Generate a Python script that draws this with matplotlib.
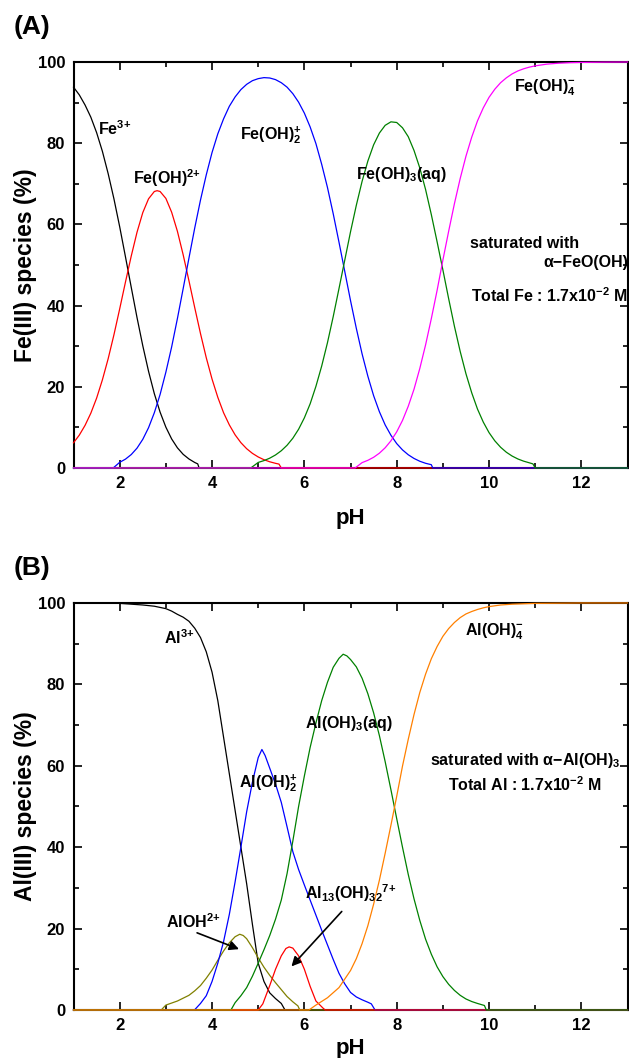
import numpy as np
import matplotlib.pyplot as plt
from matplotlib.ticker import MultipleLocator

plt.rcParams['font.family'] = ['Liberation Sans', 'DejaVu Sans']
plt.rcParams['font.weight'] = 'bold'
plt.rcParams['mathtext.fontset'] = 'custom'
plt.rcParams['mathtext.rm'] = 'Liberation Sans:bold'
plt.rcParams['mathtext.sf'] = 'Liberation Sans'
plt.rcParams['mathtext.default'] = 'rm'

# ---- (A) Fe(III) speciation, % of total Fe ----
fe3_ph = [1.0, 1.125, 1.25, 1.375, 1.5, 1.625, 1.75, 1.875, 2.0, 2.125, 2.25, 2.375,
          2.5, 2.625, 2.75, 2.875, 3.0, 3.125, 3.25, 3.375, 3.5, 3.625, 3.69, 3.72, 13]
fe3 = [93.8, 91.9, 89.4, 86.4, 82.6, 78.0, 72.5, 66.3, 59.4, 52.0, 44.5, 37.05,
       30.1, 23.8, 18.3, 13.75, 10.05, 7.15, 4.96, 3.35, 2.21, 1.35, 1.0, 0, 0]

feoh_ph = [1.0, 1.125, 1.25, 1.375, 1.5, 1.625, 1.75, 1.875, 2.0, 2.125, 2.25, 2.375,
           2.5, 2.625, 2.75, 2.81, 2.875, 3.0, 3.125, 3.25, 3.375, 3.5, 3.625, 3.75,
           3.875, 4.0, 4.125, 4.25, 4.375, 4.5, 4.625, 4.75, 4.875, 5.0, 5.125, 5.25,
           5.375, 5.45, 5.5, 13]
feoh = [6.2, 8.09, 10.5, 13.5, 17.2, 21.7, 26.9, 32.8, 39.2, 45.8, 52.2, 58.06,
        62.9, 66.3, 68.1, 68.3, 68.1, 66.4, 63.0, 58.3, 52.5, 46.1, 39.5, 33.1,
        27.15, 21.9, 17.4, 13.6, 10.6, 8.15, 6.23, 4.74, 3.59, 2.71, 2.03, 1.52,
        1.14, 0.95, 0, 0]

feoh2_ph = [1.0, 1.86, 2.0, 2.125, 2.25, 2.375, 2.5, 2.625, 2.75, 2.875, 3.0, 3.125,
            3.25, 3.375, 3.5, 3.625, 3.75, 3.875, 4.0, 4.125, 4.25, 4.375, 4.5, 4.625,
            4.75, 4.875, 5.0, 5.125, 5.25, 5.375, 5.5, 5.625, 5.75, 5.875, 6.0, 6.125,
            6.25, 6.375, 6.5, 6.625, 6.75, 6.875, 7.0, 7.125, 7.25, 7.375, 7.5, 7.625,
            7.75, 7.875, 8.0, 8.125, 8.25, 8.375, 8.5, 8.625, 8.75, 8.78, 13]
feoh2 = [0, 0, 1.39, 2.17, 3.3, 4.88, 7.05, 9.92, 13.6, 18.1, 23.6, 29.8,
         36.8, 44.2, 51.7, 59.1, 66.0, 72.2, 77.7, 82.3, 86.0, 89.1, 91.4, 93.2,
         94.5, 95.4, 95.9, 96.15, 96.06, 95.66, 94.9, 93.8, 92.2, 90.1, 87.4, 84.0,
         79.9, 74.8, 69.1, 62.6, 55.6, 48.4, 41.2, 34.4, 28.1, 22.6, 17.8, 13.85,
         10.6, 8.05, 6.0, 4.45, 3.25, 2.34, 1.65, 1.15, 0.8, 0, 0]

feoh3_ph = [1.0, 4.84, 5.0, 5.125, 5.25, 5.375, 5.5, 5.625, 5.75, 5.875, 6.0, 6.125,
            6.25, 6.375, 6.5, 6.625, 6.75, 6.875, 7.0, 7.125, 7.25, 7.375, 7.5, 7.625,
            7.75, 7.875, 8.0, 8.125, 8.25, 8.375, 8.5, 8.625, 8.75, 8.875, 9.0, 9.125,
            9.25, 9.375, 9.5, 9.625, 9.75, 9.875, 10.0, 10.125, 10.25, 10.375, 10.5,
            10.625, 10.75, 10.875, 10.95, 11.0, 13]
feoh3 = [0, 0, 1.36, 1.81, 2.41, 3.2, 4.24, 5.59, 7.32, 9.54, 12.35, 15.8,
         20.1, 25.1, 30.85, 37.3, 44.2, 51.2, 58.2, 64.7, 70.6, 75.6, 79.6, 82.5,
         84.4, 85.26, 85.1, 83.8, 81.6, 78.2, 73.9, 68.6, 62.4, 55.7, 48.8, 41.7,
         34.9, 28.7, 23.2, 18.5, 14.5, 11.3, 8.7, 6.68, 5.1, 3.87, 2.93,
         2.21, 1.67, 1.26, 1.0, 0, 0]

feoh4_ph = [1.0, 7.1, 7.25, 7.375, 7.5, 7.625, 7.75, 7.875, 8.0, 8.125, 8.25, 8.375,
            8.5, 8.625, 8.75, 8.875, 9.0, 9.125, 9.25, 9.375, 9.5, 9.625, 9.75, 9.875,
            10.0, 10.125, 10.25, 10.375, 10.5, 10.625, 10.75, 10.875, 11.0, 11.25,
            11.5, 11.75, 12.0, 12.5, 13]
feoh4 = [0, 0, 1.31, 1.88, 2.63, 3.64, 4.97, 6.69, 8.9, 11.7, 15.2, 19.4,
         24.5, 30.3, 36.8, 43.75, 51.2, 58.3, 65.1, 71.3, 76.8, 81.5, 85.5, 88.7,
         91.3, 93.3, 94.9, 96.1, 97.07, 97.8, 98.33, 98.74, 99.05, 99.47,
         99.7, 99.83, 99.9, 99.97, 100]

# ---- (B) Al(III) speciation, % of total Al ----
al3_ph = [1.0, 1.5, 2.0, 2.5, 2.75, 3.0, 3.125, 3.25, 3.375, 3.5, 3.625, 3.75, 3.875,
          4.0, 4.125, 4.25, 4.375, 4.5, 4.625, 4.75, 4.875, 5.0, 5.125, 5.25, 5.375,
          5.5, 5.58, 13]
al3 = [100, 100, 99.9, 99.5, 99.2, 98.6, 98.0, 97.2, 96.5, 95.5, 93.8, 91.5, 88,
       83, 76, 67, 58, 49, 40, 31, 21, 11.5, 7, 4.2, 2.8,
       1.6, 0, 0]

aloh_ph = [1.0, 2.9, 3.0, 3.25, 3.5, 3.625, 3.75, 3.875, 4.0, 4.125, 4.25, 4.375,
           4.5, 4.6, 4.675, 4.75, 4.875, 5.0, 5.125, 5.25, 5.375, 5.5, 5.625, 5.75,
           5.86, 5.9, 13]
aloh = [0, 0, 1.2, 2.2, 3.6, 4.7, 6.0, 7.8, 9.8, 12.2, 14.5, 16.5,
        18.0, 18.6, 18.3, 17.5, 15.3, 12.8, 10.5, 8.5, 6.7, 5.0, 3.3, 2.0,
        1.0, 0, 0]

aloh2_ph = [1.0, 3.62, 3.75, 3.875, 4.0, 4.125, 4.25, 4.375, 4.5, 4.625, 4.75, 4.875,
            5.0, 5.08, 5.15, 5.25, 5.375, 5.5, 5.625, 5.75, 5.875, 6.0, 6.125, 6.25,
            6.375, 6.5, 6.625, 6.75, 6.875, 7.0, 7.125, 7.25, 7.375, 7.45, 7.53, 13]
aloh2 = [0, 0, 1.6, 3.5, 7, 11.5, 16.8, 23.5, 31.5, 40, 48.7, 56,
         62, 64, 62.5, 59.4, 55.5, 51, 45, 38.9, 34.5, 30.7, 27, 23.3,
         19.6, 16, 12.4, 9.0, 6.4, 4.3, 3.2, 2.5, 1.9, 1.5, 0, 0]

aloh3_ph = [1.0, 4.41, 4.5, 4.625, 4.75, 4.875, 5.0, 5.125, 5.25, 5.375, 5.5, 5.625,
            5.75, 5.875, 6.0, 6.125, 6.25, 6.375, 6.5, 6.625, 6.75, 6.84, 6.92, 7.0,
            7.125, 7.25, 7.375, 7.5, 7.625, 7.75, 7.875, 8.0, 8.125, 8.25, 8.375, 8.5,
            8.625, 8.75, 8.875, 9.0, 9.125, 9.25, 9.375, 9.5, 9.625, 9.75, 9.9, 9.94, 13]
aloh3 = [0, 0, 1.8, 3.5, 5.5, 8.3, 11.5, 14.8, 18.3, 22.3, 27, 33.5,
         41.5, 50, 57.5, 64.5, 70.5, 76, 80.5, 84.2, 86.4, 87.4, 87.0, 86.1,
         84.3, 81.5, 77.7, 73, 67.4, 61, 54.1, 47, 40.0, 33.3, 27.3, 22,
         17.4, 13.7, 10.6, 8.2, 6.3, 4.8, 3.6, 2.7, 2.07, 1.6, 1.1, 0, 0]

al13_ph = [1.0, 5.0, 5.1, 5.25, 5.375, 5.5, 5.6, 5.67, 5.75, 5.875, 6.0, 6.125, 6.25,
           6.4, 6.45, 13]
al13 = [0, 0, 1.5, 6, 10, 13.3, 15.1, 15.5, 15.2, 13.3, 10, 5.8, 2.2,
        0.5, 0, 0]

aloh4_ph = [1.0, 6.1, 6.2, 6.25, 6.5, 6.75, 7.0, 7.125, 7.25, 7.375, 7.5, 7.625, 7.75,
            7.875, 8.0, 8.125, 8.25, 8.375, 8.5, 8.625, 8.75, 8.875, 9.0, 9.125, 9.25,
            9.375, 9.5, 9.625, 9.75, 9.875, 10.0, 10.25, 10.5, 11.0, 12.0, 13]
aloh4 = [0, 0, 0.8, 1.2, 3, 5.5, 9.7, 12.6, 16.3, 20.7, 26, 31.9, 38.5,
         45.4, 52.5, 59.9, 66.5, 72.6, 78, 82.5, 86.3, 89.3, 91.8, 93.7, 95.2,
         96.4, 97.3, 97.9, 98.4, 98.8, 99.1, 99.5, 99.7, 99.9, 100, 100]

fig = plt.figure(figsize=(6.29, 10.58), dpi=100)
axA = fig.add_axes([0.1169, 0.5577, 0.8808, 0.3837])
axB = fig.add_axes([0.1169, 0.0454, 0.8808, 0.3847])

lw = 0.9
kw = dict(lw=lw, zorder=3, clip_on=False)
axA.plot(fe3_ph, fe3, color='black', **kw)
axA.plot(feoh_ph, feoh, color='red', **kw)
axA.plot(feoh2_ph, feoh2, color='blue', **kw)
axA.plot(feoh3_ph, feoh3, color='green', **kw)
axA.plot(feoh4_ph, feoh4, color='magenta', **kw)

axB.plot(al3_ph, al3, color='black', **kw)
axB.plot(aloh_ph, aloh, color='#808000', **kw)
axB.plot(aloh2_ph, aloh2, color='blue', **kw)
axB.plot(al13_ph, al13, color='red', **kw)
axB.plot(aloh3_ph, aloh3, color='green', **kw)
axB.plot(aloh4_ph, aloh4, color='#ff8000', **kw)

for ax in (axA, axB):
    ax.set_xlim(1, 13)
    ax.set_ylim(0, 100)
    ax.xaxis.set_major_locator(MultipleLocator(2))
    ax.xaxis.set_minor_locator(MultipleLocator(1))
    ax.yaxis.set_major_locator(MultipleLocator(20))
    ax.yaxis.set_minor_locator(MultipleLocator(10))
    ax.tick_params(which='both', direction='in', top=True, right=True, width=1.2,
                   labelsize=12)
    ax.tick_params(which='major', length=6, pad=6)
    ax.tick_params(which='minor', length=3.5)
    for s in ax.spines.values():
        s.set_linewidth(1.5)
    ax.set_xticks([2, 4, 6, 8, 10, 12])
    ax.set_xlabel('pH', fontsize=16, fontweight='bold')
    for lab in ax.get_xticklabels() + ax.get_yticklabels():
        lab.set_fontweight('bold')

axA.set_ylabel('Fe(III) species (%)', fontsize=16.5, fontweight='bold')
axB.set_ylabel('Al(III) species (%)', fontsize=16.5, fontweight='bold')
axA.yaxis.set_label_coords(-0.066, 0.5)
axB.yaxis.set_label_coords(-0.066, 0.5)
axA.xaxis.set_label_coords(0.5, -0.098)
axB.xaxis.set_label_coords(0.5, -0.07)

fs = 11.5
tA = dict(fontsize=fs, fontweight='bold', ha='left', va='center')
axA.text(1.52, 83.7, r'Fe$^{\mathrm{3{+}}}$', **tA)
axA.text(2.29, 71.4, r'Fe(OH)$^{\mathrm{2{+}}}$', **tA)
axA.text(4.60, 82.0, r'Fe(OH)$_{\mathrm{2}}^{\mathrm{+}}$', **tA)
axA.text(7.12, 72.4, r'Fe(OH)$_{\mathrm{3}}$(aq)', **tA)
axA.text(10.53, 93.6, r'Fe(OH)$_{\mathrm{4}}^{\mathrm{-}}$', **tA)
axA.text(9.59, 55.2, 'saturated with', **tA)
axA.text(11.18, 50.6, 'α−FeO(OH)', clip_on=False, **tA)
axA.text(9.61, 42.4, r'Total Fe : 1.7x10$^{\mathrm{-2}}$ M', **tA)

axB.text(2.97, 91.4, r'Al$^{\mathrm{3{+}}}$', **tA)
axB.text(6.02, 70.5, r'Al(OH)$_{\mathsf{3}}\mathsf{(aq)}$', **tA)
axB.text(4.59, 55.8, r'Al(OH)$_{\mathrm{2}}^{\mathrm{+}}$', **tA)
axB.text(3.00, 21.6, r'AlOH$^{\mathrm{2{+}}}$', **tA)
axB.text(6.02, 28.7, r'Al$_{\mathrm{13}}$(OH)$_{\mathrm{32}}$$^{\mathrm{7{+}}}$', **tA)
axB.text(9.47, 92.9, r'Al(OH)$_{\mathrm{4}}^{\mathrm{-}}$', **tA)
axB.text(8.72, 61.4, r'saturated with α−Al(OH)$_{\mathrm{3}}$', **tA)
axB.text(9.11, 55.3, r'Total Al : 1.7x10$^{\mathrm{-2}}$ M', **tA)

arr = dict(arrowstyle='-|>', color='black', lw=1.2, mutation_scale=14)
axB.annotate('', xy=(4.64, 14.7), xytext=(3.62, 19.2), arrowprops=arr)
axB.annotate('', xy=(5.68, 10.2), xytext=(6.85, 24.7), arrowprops=arr)

fig.text(0.021, 1 - 27 / 1058, '(A)', fontsize=19, fontweight='bold', va='center')
fig.text(0.021, 1 - 568 / 1058, '(B)', fontsize=19, fontweight='bold', va='center')

fig.savefig('out.png', dpi=100)
